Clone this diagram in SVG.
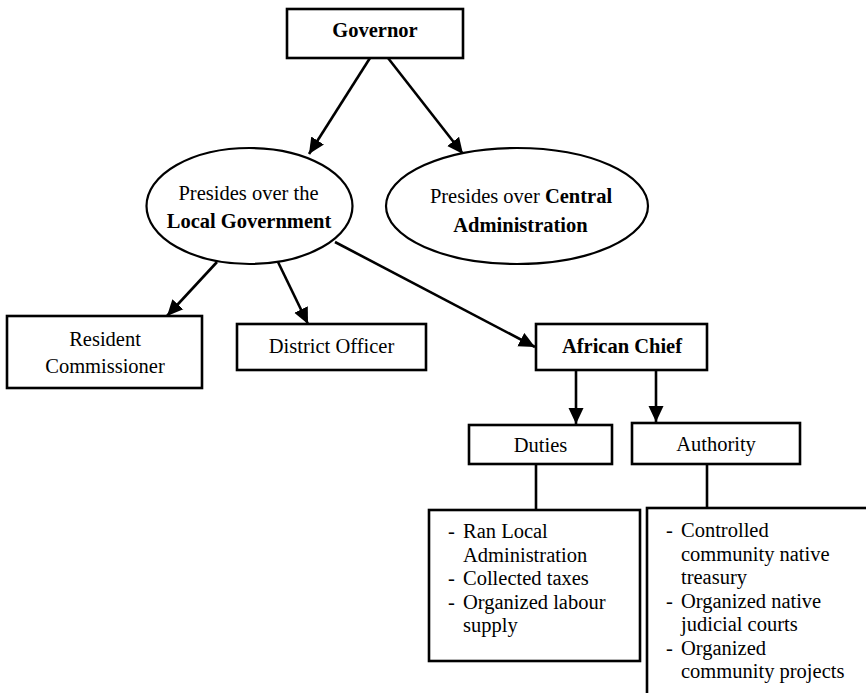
<svg xmlns="http://www.w3.org/2000/svg" width="866" height="693" viewBox="0 0 866 693">
<style>
.box{fill:#fff;stroke:#000;stroke-width:2.6}
.ell{fill:#fff;stroke:#000;stroke-width:2.2}
.t{font-family:"Liberation Serif","Times New Roman",serif;font-size:20.5px;fill:#000}
.c{text-anchor:middle}
.b{font-weight:bold}
.con{stroke:#000;stroke-width:2.6;fill:none}
.arr{marker-end:url(#ah)}
</style>
<defs>
<marker id="ah" markerUnits="userSpaceOnUse" markerWidth="16" markerHeight="16" viewBox="0 0 16 16" refX="16" refY="8" orient="auto">
<path d="M0,0.5 L16,8 L0,15.5 z" fill="#000"/>
</marker>
</defs>
<rect width="866" height="693" fill="#fff"/>
<g id="connectors">
<line class="con arr" x1="370" y1="58" x2="309" y2="154"/>
<line class="con arr" x1="388" y1="58" x2="463" y2="154"/>
<line class="con arr" x1="217" y1="262" x2="167" y2="316"/>
<line class="con arr" x1="278" y1="262" x2="308" y2="324"/>
<line class="con arr" x1="335" y1="242" x2="535" y2="347"/>
<line class="con arr" x1="576" y1="370" x2="576" y2="424"/>
<line class="con arr" x1="656" y1="370" x2="656" y2="422"/>
<line class="con" x1="536" y1="464" x2="536" y2="510"/>
<line class="con" x1="707" y1="464" x2="707" y2="508"/>
</g>
<g id="governor">
<rect class="box" x="287" y="9" width="176" height="49"/>
<text class="t c b" x="375" y="37">Governor</text>
</g>
<g id="local-government">
<ellipse class="ell" cx="249.5" cy="206" rx="103" ry="58"/>
<text class="t c" x="248.5" y="200">Presides over the</text>
<text class="t c b" x="249" y="228">Local Government</text>
</g>
<g id="central-administration">
<ellipse class="ell" cx="517" cy="206" rx="131" ry="58"/>
<text class="t c" x="521" y="203">Presides over <tspan class="b">Central</tspan></text>
<text class="t c b" x="520.5" y="231.5">Administration</text>
</g>
<g id="resident-commissioner">
<rect class="box" x="7" y="316" width="195" height="72"/>
<text class="t c" x="105" y="346">Resident</text>
<text class="t c" x="105" y="373">Commissioner</text>
</g>
<g id="district-officer">
<rect class="box" x="237" y="324" width="189" height="46"/>
<text class="t c" x="331.5" y="353">District Officer</text>
</g>
<g id="african-chief">
<rect class="box" x="536" y="324" width="171" height="46"/>
<text class="t c b" x="622" y="352.5">African Chief</text>
</g>
<g id="duties">
<rect class="box" x="469" y="425" width="143" height="39"/>
<text class="t c" x="540.5" y="452">Duties</text>
</g>
<g id="authority">
<rect class="box" x="632" y="423" width="168" height="41"/>
<text class="t c" x="716" y="451">Authority</text>
</g>
<g id="duties-list">
<rect class="box" x="429" y="510" width="211" height="151"/>
<text class="t" x="448" y="538">-</text>
<text class="t" x="463" y="538">Ran Local</text>
<text class="t" x="463" y="561.5">Administration</text>
<text class="t" x="448" y="585">-</text>
<text class="t" x="463" y="585">Collected taxes</text>
<text class="t" x="448" y="608.5">-</text>
<text class="t" x="463" y="608.5">Organized labour</text>
<text class="t" x="463" y="632">supply</text>
</g>
<g id="authority-list">
<rect class="box" x="647" y="508" width="240" height="200"/>
<text class="t" x="666" y="537">-</text>
<text class="t" x="681" y="537">Controlled</text>
<text class="t" x="681" y="560.5">community native</text>
<text class="t" x="681" y="584">treasury</text>
<text class="t" x="666" y="607.5">-</text>
<text class="t" x="681" y="607.5">Organized native</text>
<text class="t" x="681" y="631">judicial courts</text>
<text class="t" x="666" y="654.5">-</text>
<text class="t" x="681" y="654.5">Organized</text>
<text class="t" x="681" y="678">community projects</text>
</g>
</svg>
